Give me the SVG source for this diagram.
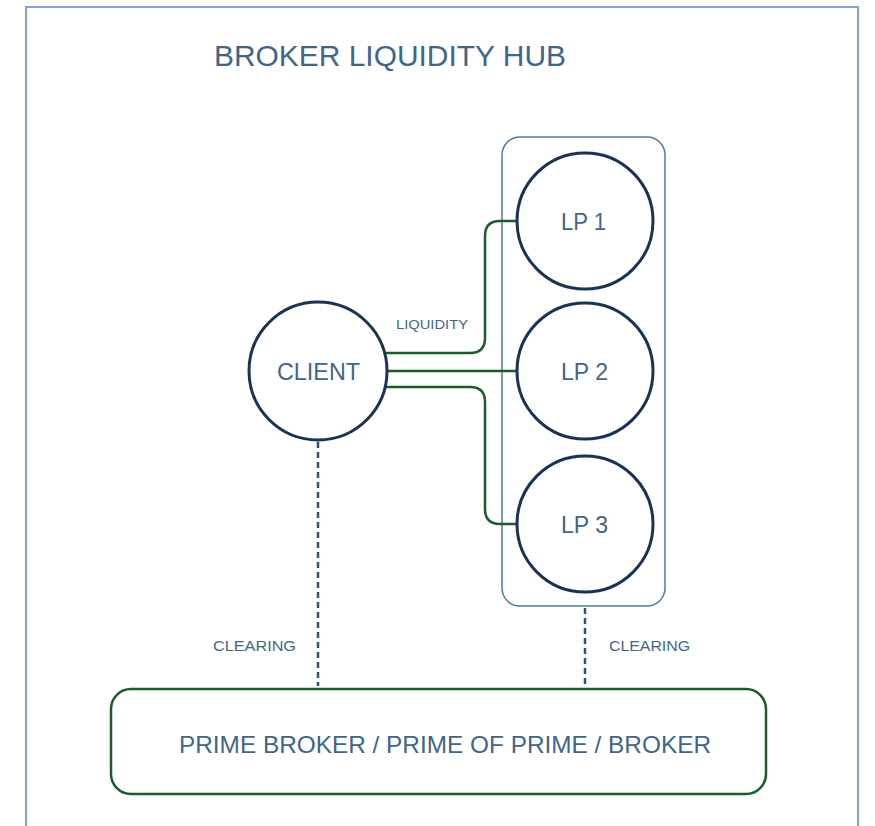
<svg xmlns="http://www.w3.org/2000/svg" width="875" height="826" viewBox="0 0 875 826">
  <style>
    .lbl { font-family: "Liberation Sans", "DejaVu Sans", sans-serif; fill: #3f6688; text-anchor: middle; }
    .node { fill: #ffffff; stroke: #1b3352; stroke-width: 3; }
    .link { fill: none; stroke: #1e5a2c; stroke-width: 2.5; }
    .clear { fill: none; stroke: #2c5378; stroke-width: 2.5; stroke-dasharray: 6 4; }
  </style>
  <rect width="875" height="826" fill="#ffffff"/>
  <!-- outer frame -->
  <rect x="26" y="7" width="832" height="840" fill="none" stroke="#7ea4d9" stroke-width="2"/>
  <text class="lbl" x="390" y="66" font-size="29" textLength="352" lengthAdjust="spacingAndGlyphs">BROKER LIQUIDITY HUB</text>

  <!-- liquidity provider group -->
  <rect id="lp-group" x="502" y="137" width="163" height="469" rx="18" fill="none" stroke="#4f7ca2" stroke-width="1.5"/>

  <g id="connectors">
    <path class="link" d="M386 353 H470 Q485 353 485 338 V236 Q485 221 500 221 H517"/>
    <path class="link" d="M386 371 H517"/>
    <path class="link" d="M386 387 H470 Q485 387 485 402 V509 Q485 524 500 524 H517"/>
    <path class="clear" d="M318 442 V686"/>
    <path class="clear" d="M585 608 V686"/>
    <text class="lbl" x="432" y="329" font-size="13" textLength="72" lengthAdjust="spacingAndGlyphs">LIQUIDITY</text>
    <text class="lbl" x="254.5" y="651" font-size="15" textLength="83" lengthAdjust="spacingAndGlyphs">CLEARING</text>
    <text class="lbl" x="649.5" y="651" font-size="15" textLength="81" lengthAdjust="spacingAndGlyphs">CLEARING</text>
  </g>

  <g id="client">
    <circle class="node" cx="318" cy="371" r="69"/>
    <text class="lbl" x="318.5" y="380" font-size="23" textLength="83" lengthAdjust="spacingAndGlyphs">CLIENT</text>
  </g>
  <g id="lp1">
    <circle class="node" cx="585" cy="221" r="68"/>
    <text class="lbl" x="583.5" y="230" font-size="23" textLength="45" lengthAdjust="spacingAndGlyphs">LP 1</text>
  </g>
  <g id="lp2">
    <circle class="node" cx="585" cy="371" r="68"/>
    <text class="lbl" x="584.5" y="380" font-size="23" textLength="47" lengthAdjust="spacingAndGlyphs">LP 2</text>
  </g>
  <g id="lp3">
    <circle class="node" cx="585" cy="524" r="68"/>
    <text class="lbl" x="584.5" y="533" font-size="23" textLength="47" lengthAdjust="spacingAndGlyphs">LP 3</text>
  </g>

  <g id="prime-broker">
    <rect x="111" y="689" width="655" height="105" rx="20" fill="#ffffff" stroke="#1e5a2c" stroke-width="2.5"/>
    <text class="lbl" x="445" y="753" font-size="24" textLength="532" lengthAdjust="spacingAndGlyphs">PRIME BROKER / PRIME OF PRIME / BROKER</text>
  </g>
</svg>
